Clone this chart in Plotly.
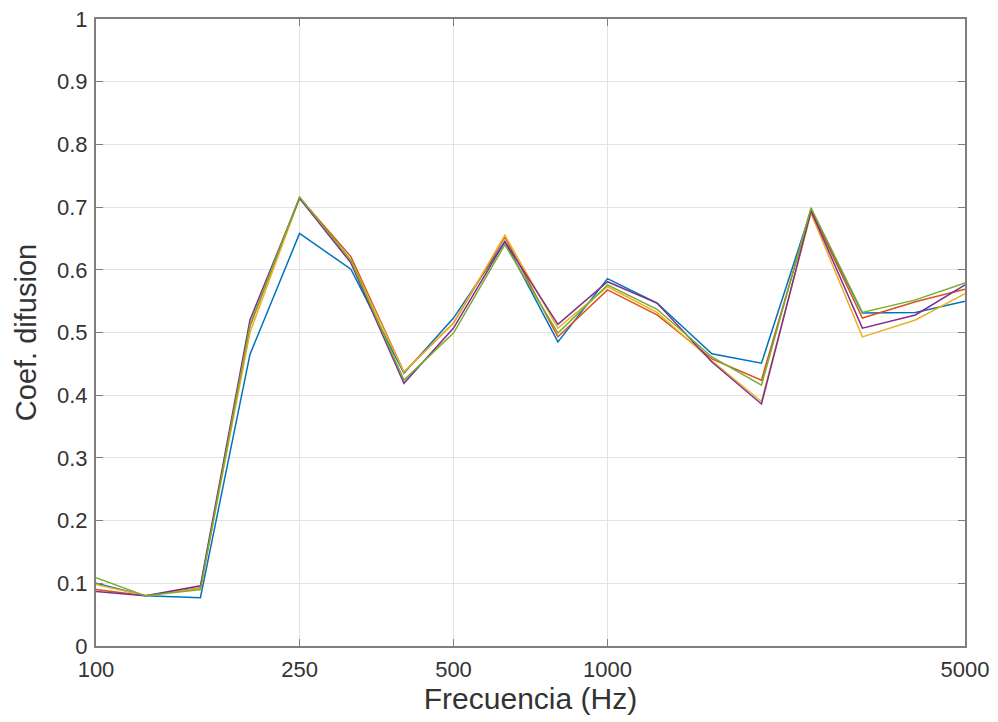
import plotly.graph_objects as go
import math

freqs = [100, 125, 160, 200, 250, 315, 400, 500, 630, 800, 1000, 1250, 1600, 2000, 2500, 3150, 4000, 5000]

s_blue   = [0.100, 0.080, 0.077, 0.465, 0.658, 0.601, 0.435, 0.523, 0.645, 0.485, 0.586, 0.547, 0.466, 0.451, 0.695, 0.531, 0.532, 0.550]
s_orange = [0.090, 0.080, 0.093, 0.510, 0.715, 0.621, 0.437, 0.515, 0.652, 0.493, 0.568, 0.528, 0.458, 0.424, 0.695, 0.523, 0.549, 0.569]
s_yellow = [0.098, 0.080, 0.092, 0.500, 0.714, 0.615, 0.437, 0.515, 0.655, 0.507, 0.573, 0.532, 0.455, 0.390, 0.690, 0.493, 0.520, 0.562]
s_purple = [0.087, 0.080, 0.096, 0.520, 0.714, 0.611, 0.419, 0.507, 0.645, 0.513, 0.581, 0.547, 0.453, 0.386, 0.694, 0.507, 0.528, 0.576]
s_green  = [0.109, 0.080, 0.090, 0.512, 0.716, 0.615, 0.424, 0.499, 0.640, 0.499, 0.576, 0.537, 0.461, 0.416, 0.699, 0.532, 0.552, 0.579]

series = [s_blue, s_orange, s_yellow, s_purple, s_green]
colors = ["#0072BD", "#D95319", "#EDB120", "#7E2F8E", "#77AC30"]

x_ticks = [100, 250, 500, 1000, 5000]
x_ticktext = ["100", "250", "500", "1000", "5000"]
y_ticks = [0, 0.1, 0.2, 0.3, 0.4, 0.5, 0.6, 0.7, 0.8, 0.9, 1]
y_ticktext = ["0", "0.1", "0.2", "0.3", "0.4", "0.5", "0.6", "0.7", "0.8", "0.9", "1"]

fig = go.Figure()
for s, c in zip(series, colors):
    fig.add_trace(go.Scatter(x=freqs, y=s, mode="lines", line=dict(color=c, width=1.5), showlegend=False))

FONT = "Liberation Sans, Arial, sans-serif"

axis_common = dict(
    showline=True, linecolor="#7f7f7f", linewidth=2, mirror="ticks",
    ticks="inside", ticklen=7, tickcolor="#7f7f7f", tickwidth=1,
    showgrid=True, gridcolor="#e3e3e3", gridwidth=1, zeroline=False,
    automargin=False, ticklabeloverflow="allow",
    tickfont=dict(family=FONT, size=22, color="#333333"),
)

fig.update_layout(
    width=990, height=714,
    margin=dict(l=88, r=33, t=11, b=76),
    paper_bgcolor="white", plot_bgcolor="white",
    font=dict(family=FONT, color="#333333"),
    xaxis=dict(type="log", range=[2, math.log10(5000)], tickvals=x_ticks, ticktext=x_ticktext,
               ticklabelstandoff=3,
               title=dict(text="Frecuencia (Hz)", font=dict(size=30, color="#333333"), standoff=4),
               **axis_common),
    yaxis=dict(range=[0, 1], tickvals=y_ticks, ticktext=y_ticktext, ticklabelstandoff=2,
               title=dict(text="Coef. difusion", font=dict(size=29, color="#333333"), standoff=12),
               **axis_common),
)

fig.write_html("out.html")
